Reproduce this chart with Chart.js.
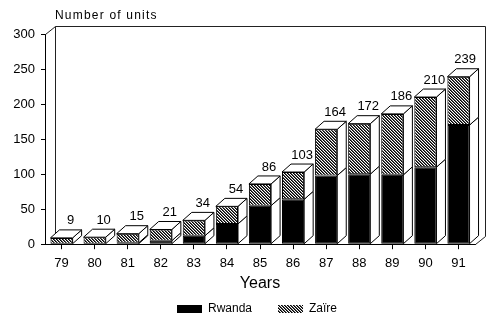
<!DOCTYPE html>
<html>
<head>
<meta charset="utf-8">
<script src="https://cdn.jsdelivr.net/npm/chart.js@4/dist/chart.umd.min.js"></script>
<style>
  html, body { margin: 0; padding: 0; background: #fff; }
  #wrap { width: 500px; height: 332px; }
</style>
</head>
<body>
<div id="wrap"><canvas id="units"></canvas></div>
<script>
// Years (19xx) and number of units per country
const years = ["79", "80", "81", "82", "83", "84", "85", "86", "87", "88", "89", "90", "91"];
const rwanda = [0, 0, 2, 5, 12, 29, 55, 64, 98, 100, 99, 110, 170];
const zaire = [9, 10, 13, 16, 22, 25, 31, 39, 66, 72, 87, 100, 69];
const seriesNames = ["Rwanda", "Zaïre"];
const yTicks = [0, 50, 100, 150, 200, 250, 300];

const FONT = "'Liberation Sans', Arial, Helvetica, sans-serif";
Chart.defaults.font.family = FONT;
Chart.defaults.color = "#000";

// Depth of the bars and of the back wall
const DX = 9, DY = -8;
const WALL_DX = 10, WALL_DY = -8;

// Diagonal hatch used for Zaire
const hatch = (() => {
    const n = 3;
    const c = document.createElement("canvas");
    c.width = n; c.height = n;
    const g = c.getContext("2d");
    const img = g.createImageData(n, n);
    for (let y = 0; y < n; y++) {
        for (let x = 0; x < n; x++) {
            const d = (x - y + n) % n;
            const v = d === 0 ? 0 : d === 1 ? 90 : 255;
            const i = (y * n + x) * 4;
            img.data[i] = v; img.data[i + 1] = v; img.data[i + 2] = v; img.data[i + 3] = 255;
        }
    }
    g.putImageData(img, 0, 0);
    return g.createPattern(c, "repeat");
})();

const line = (ctx, pts) => {
    ctx.beginPath();
    ctx.moveTo(pts[0][0], pts[0][1]);
    for (let k = 1; k < pts.length; k++) ctx.lineTo(pts[k][0], pts[k][1]);
};

// Back wall, bar sides/tops, value labels, axis heading and legend
const box3d = {
    id: "box3d",
    beforeDatasetsDraw(chart) {
        const { ctx, chartArea: a } = chart;
        ctx.save();
        ctx.strokeStyle = "#222";
        ctx.lineWidth = 1;
        const l = Math.round(a.left) + 0.5, r = Math.round(a.right) + 0.5;
        const t = Math.round(a.top) + 0.5, b = Math.round(a.bottom) + 0.5;
        line(ctx, [[l, t], [l + WALL_DX, t + WALL_DY], [r + WALL_DX, t + WALL_DY],
            [r + WALL_DX, b + WALL_DY], [r, b]]);
        ctx.stroke();
        line(ctx, [[l + WALL_DX, t + WALL_DY], [l + WALL_DX, b + WALL_DY]]);
        ctx.stroke();
        ctx.restore();
    },
    afterDatasetsDraw(chart) {
        const { ctx, chartArea: a } = chart;
        const m0 = chart.getDatasetMeta(0).data;
        const m1 = chart.getDatasetMeta(1).data;
        ctx.save();
        ctx.strokeStyle = "#000";
        ctx.fillStyle = "#fff";
        ctx.lineWidth = 1;
        ctx.lineJoin = "round";
        m1.forEach((top, i) => {
            const low = m0[i];
            const left = top.x - top.width / 2, right = top.x + top.width / 2;
            const segs = [[low.base, low.y], [top.base, top.y]];
            segs.forEach(([y0, y1]) => {
                if (Math.abs(y0 - y1) < 0.5) return;
                line(ctx, [[right, y1], [right + DX, y1 + DY], [right + DX, y0 + DY], [right, y0]]);
                ctx.closePath();
                ctx.fill();
                ctx.stroke();
            });
            // top face
            line(ctx, [[left, top.y], [left + DX, top.y + DY], [right + DX, top.y + DY], [right, top.y]]);
            ctx.closePath();
            ctx.fill();
            ctx.stroke();
        });
        // totals above the bars
        ctx.fillStyle = "#000";
        ctx.font = "13px " + FONT;
        ctx.textAlign = "center";
        ctx.textBaseline = "middle";
        m1.forEach((top, i) => {
            const txt = String(rwanda[i] + zaire[i]);
            const w = ctx.measureText(txt).width;
            let x = top.x + DX;
            x = Math.min(x, a.right + 1 - w / 2);
            ctx.fillText(txt, x, top.y + DY - 9);
        });
        ctx.restore();
    },
    afterDraw(chart) {
        const { ctx, chartArea: a } = chart;
        ctx.save();
        ctx.fillStyle = "#000";
        // axis heading
        ctx.font = "12px " + FONT;
        ctx.letterSpacing = "1.2px";
        ctx.textAlign = "left";
        ctx.textBaseline = "middle";
        ctx.fillText("Number of units", a.left + WALL_DX, 16);
        ctx.letterSpacing = "0px";
        // legend
        const ds = chart.data.datasets;
        let x = 177;
        const y = 309;
        ds.forEach((d) => {
            ctx.fillStyle = d.backgroundColor;
            ctx.fillRect(x, y - 4, 25, 8);
            x += 31;
            ctx.fillStyle = "#000";
            ctx.fillText(d.label, x, y);
            x += ctx.measureText(d.label).width + 26;
        });
        ctx.restore();
    }
};

new Chart(document.getElementById("units"), {
    type: "bar",
    plugins: [box3d],
    data: {
        labels: years,
        datasets: [
            {
                label: seriesNames[0],
                data: rwanda,
                backgroundColor: "#000",
                borderColor: "#000",
                borderWidth: 1,
                borderSkipped: false,
            },
            {
                label: seriesNames[1],
                data: zaire,
                backgroundColor: hatch,
                borderColor: "#000",
                borderWidth: 1,
                borderSkipped: false,
            },
        ],
    },
    options: {
        responsive: true,
        maintainAspectRatio: false,
        animation: false,
        datasets: { bar: { categoryPercentage: 1, barPercentage: 0.67 } },
        layout: { padding: { top: 34, right: 25, bottom: 39, left: 0 } },
        plugins: {
            legend: { display: false },
            tooltip: { enabled: false },
        },
        scales: {
            x: {
                stacked: true,
                grid: { display: true, drawOnChartArea: false, offset: false, tickLength: 5, color: "#000" },
                border: { display: true, color: "#000", width: 1 },
                ticks: { padding: 6, font: { size: 13 }, color: "#000" },
                title: { display: true, text: "Years", font: { size: 16 }, color: "#000", padding: { top: -3, bottom: 0 } },
            },
            y: {
                stacked: true,
                min: 0,
                max: 300,
                afterFit: (s) => { s.width = 45; },
                afterBuildTicks: (s) => { s.ticks = yTicks.map((v) => ({ value: v })); },
                grid: { display: true, drawOnChartArea: false, tickLength: 4, color: "#000" },
                border: { display: true, color: "#000", width: 1 },
                ticks: { padding: 6, font: { size: 13 }, color: "#000" },
            },
        },
    },
});
</script>
</body>
</html>
